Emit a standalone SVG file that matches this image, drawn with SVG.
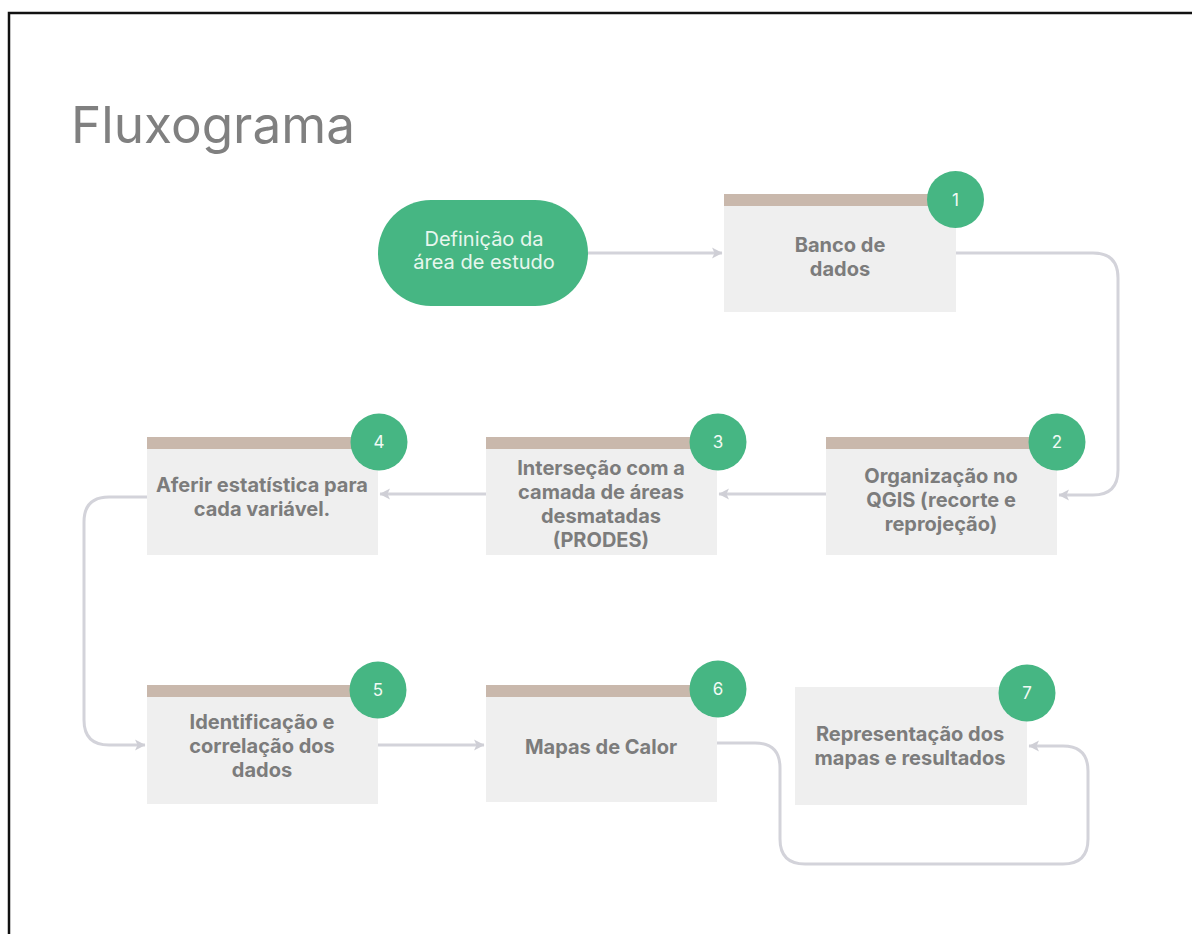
<svg xmlns="http://www.w3.org/2000/svg" width="1192" height="934" viewBox="0 0 1192 934">
<style>
.box{fill:#efefef}
.bar{fill:#c9b8ac}
.badge{fill:#46b683}
.num{font-family:Inter,"Noto Sans",sans-serif;font-size:17px;fill:#f2faf5;text-anchor:middle}
.lbl{font-family:Inter,"Noto Sans",sans-serif;font-size:20px;font-weight:700;fill:#7c7c7c;text-anchor:middle}
.conn{fill:none;stroke:#d3d3da;stroke-width:3}
</style>
<defs>
<marker id="arr" viewBox="0 0 12 12" refX="11" refY="6" markerWidth="12" markerHeight="12" markerUnits="userSpaceOnUse" orient="auto">
<path d="M1,0.5 L11.5,6 L1,11.5 L3.5,6 z" fill="#cfcfd6"/>
</marker>
</defs>
<rect width="1192" height="934" fill="#ffffff"/>
<path d="M9,934 V13 H1192" fill="none" stroke="#111" stroke-width="2.5"/>
<text x="71" y="143" font-family="Inter,'Noto Sans',sans-serif" font-size="51.3" fill="#808080">Fluxograma</text>

<g id="connectors">
<path class="conn" marker-end="url(#arr)" d="M588,253 H722"/>
<path class="conn" marker-end="url(#arr)" d="M956,253 H1093 Q1118,253 1118,278 V470 Q1118,495 1093,495 H1059"/>
<path class="conn" marker-end="url(#arr)" d="M826,494 H719"/>
<path class="conn" marker-end="url(#arr)" d="M486,494 H380"/>
<path class="conn" marker-end="url(#arr)" d="M147,497 H109 Q84,497 84,522 V720 Q84,745 109,745 H145"/>
<path class="conn" marker-end="url(#arr)" d="M378,745 H484"/>
<path class="conn" marker-end="url(#arr)" d="M717,743 H755 Q780,743 780,768 V839 Q780,864 805,864 H1063 Q1088,864 1088,839 V771 Q1088,746 1063,746 H1029"/>
</g>

<g id="start">
<rect x="378" y="200" width="210" height="106" rx="53" fill="#46b683"/>
<text font-family="Inter,'Noto Sans',sans-serif" font-size="20" fill="#e8f6ee" text-anchor="middle"><tspan x="484" y="246">Definição da</tspan><tspan x="484" y="269">área de estudo</tspan></text>
</g>

<g id="n1">
<rect class="box" x="724" y="194" width="232" height="118"/>
<rect class="bar" x="724" y="194" width="232" height="12"/>
<circle class="badge" cx="955.5" cy="199.5" r="28.5"/>
<text class="num" x="955.5" y="205.5">1</text>
<text class="lbl"><tspan x="840" y="252">Banco de</tspan><tspan x="840" y="276">dados</tspan></text>
</g>

<g id="n2">
<rect class="box" x="826" y="437" width="231" height="118"/>
<rect class="bar" x="826" y="437" width="231" height="12"/>
<circle class="badge" cx="1057" cy="442" r="28.5"/>
<text class="num" x="1057" y="448">2</text>
<text class="lbl"><tspan x="941" y="483">Organização no</tspan><tspan x="941" y="507">QGIS (recorte e</tspan><tspan x="941" y="531">reprojeção)</tspan></text>
</g>

<g id="n3">
<rect class="box" x="486" y="437" width="231" height="118"/>
<rect class="bar" x="486" y="437" width="231" height="12"/>
<circle class="badge" cx="718" cy="442" r="28.5"/>
<text class="num" x="718" y="448">3</text>
<text class="lbl"><tspan x="601" y="475">Interseção com a</tspan><tspan x="601" y="499">camada de áreas</tspan><tspan x="601" y="523">desmatadas</tspan><tspan x="601" y="547">(PRODES)</tspan></text>
</g>

<g id="n4">
<rect class="box" x="147" y="437" width="231" height="118"/>
<rect class="bar" x="147" y="437" width="231" height="12"/>
<circle class="badge" cx="379" cy="442" r="28.5"/>
<text class="num" x="379" y="448">4</text>
<text class="lbl"><tspan x="262" y="492">Aferir estatística para</tspan><tspan x="262" y="516">cada variável.</tspan></text>
</g>

<g id="n5">
<rect class="box" x="147" y="685" width="231" height="119"/>
<rect class="bar" x="147" y="685" width="231" height="12"/>
<circle class="badge" cx="378" cy="690" r="28.5"/>
<text class="num" x="378" y="696">5</text>
<text class="lbl"><tspan x="262" y="729">Identificação e</tspan><tspan x="262" y="753">correlação dos</tspan><tspan x="262" y="777">dados</tspan></text>
</g>

<g id="n6">
<rect class="box" x="486" y="685" width="231" height="117"/>
<rect class="bar" x="486" y="685" width="231" height="12"/>
<circle class="badge" cx="718" cy="689" r="28.5"/>
<text class="num" x="718" y="695">6</text>
<text class="lbl"><tspan x="601" y="754">Mapas de Calor</tspan></text>
</g>

<g id="n7">
<rect class="box" x="795" y="687" width="232" height="118"/>
<circle class="badge" cx="1027" cy="693" r="28.5"/>
<text class="num" x="1027" y="699">7</text>
<text class="lbl"><tspan x="910" y="741">Representação dos</tspan><tspan x="910" y="765">mapas e resultados</tspan></text>
</g>
</svg>
